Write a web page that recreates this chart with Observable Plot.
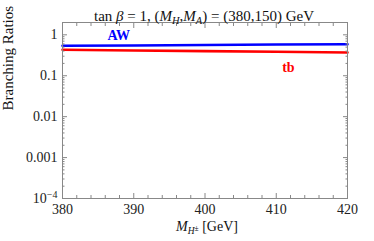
<!DOCTYPE html>
<html><head><meta charset="utf-8">
<script src="https://cdn.jsdelivr.net/npm/d3@7"></script>
<script src="https://cdn.jsdelivr.net/npm/@observablehq/plot@0.6"></script>
<style>body{margin:0;background:#fff}</style>
</head><body><div id="chart"></div>
<script>
const masses = [380, 390, 400, 410, 420];
const brAW = [0.54, 0.55, 0.565, 0.58, 0.59];
const brTB = [0.43, 0.415, 0.40, 0.385, 0.37];
const seriesNames = ["AW", "tb"];
const seriesColors = ["#0000ff", "#ff0000"];
const xMajor = [380, 390, 400, 410, 420];
const yMajor = [1, 0.1, 0.01, 0.001, 0.0001];
const yLabels = ["1", "0.1", "0.01", "0.001", "10-4"];

const rows = [];
masses.forEach((m, i) => {
  rows.push({m, v: brAW[i], s: "AW"});
  rows.push({m, v: brTB[i], s: "tb"});
});
const xMinor = d3.range(380, 421, 2).filter(v => !xMajor.includes(v));
const yMinor = [];
for (let e = -4; e <= 0; e++) for (let k = 2; k <= 9; k++) { const v = k * 10 ** e; if (v <= 2) yMinor.push(v); }
const labelPos = [{m: 387.9, v: 0.95, s: "AW"}, {m: 411.7, v: 0.157, s: "tb"}];
const frameCol = "#888";

const chart = Plot.plot({
  width: 374, height: 241,
  marginLeft: 62, marginRight: 27, marginTop: 22, marginBottom: 43,
  x: {domain: [380, 420]},
  y: {type: "log", domain: [0.0001, 2]},
  color: {domain: seriesNames, range: seriesColors},
  style: {fontSize: "14px", fontFamily: "'Liberation Serif', 'DejaVu Serif', serif", color: "#222", background: "#fff"},
  marks: [
    Plot.line(rows, {x: "m", y: "v", z: "s", stroke: "s", strokeWidth: 2.6}),
    Plot.frame({stroke: frameCol, strokeWidth: 1}),
    Plot.axisX({anchor: "bottom", ticks: xMajor, tickSize: -5, text: null, stroke: frameCol, label: null}),
    Plot.axisX({anchor: "top", ticks: xMajor, tickSize: -5, text: null, stroke: frameCol, label: null}),
    Plot.axisX({anchor: "bottom", ticks: xMinor, tickSize: -3, text: null, stroke: frameCol, label: null}),
    Plot.axisX({anchor: "top", ticks: xMinor, tickSize: -3, text: null, stroke: frameCol, label: null}),
    Plot.axisY({anchor: "left", ticks: yMajor, tickSize: -5, text: null, stroke: frameCol, label: null}),
    Plot.axisY({anchor: "right", ticks: yMajor, tickSize: -5, text: null, stroke: frameCol, label: null}),
    Plot.axisY({anchor: "left", ticks: yMinor, tickSize: -2.5, text: null, stroke: frameCol, label: null}),
    Plot.axisY({anchor: "right", ticks: yMinor, tickSize: -2.5, text: null, stroke: frameCol, label: null}),
    Plot.axisX({anchor: "bottom", ticks: xMajor, tickSize: 0, tickPadding: 6, tickFormat: d => String(d), label: null, fontSize: 14}),
    Plot.axisY({anchor: "left", ticks: yMajor, tickSize: 0, tickPadding: 5, tickFormat: d => yLabels[yMajor.indexOf(d)], label: null, fontSize: 14}),
    Plot.text(labelPos, {x: "m", y: "v", text: "s", fill: "s", fontWeight: "bold", fontSize: 14}),
    Plot.text(["TITLE"], {frameAnchor: "top", dx: -1, dy: -12.5, text: d => d, fontSize: 15, fill: "#111"}),
    Plot.text(["XLABEL"], {frameAnchor: "bottom", dx: 2, dy: 32, text: d => d, fontSize: 14, fill: "#111"}),
    Plot.text(["Branching Ratios"], {frameAnchor: "left", dx: -54, rotate: -90, text: d => d, fontSize: 15, fill: "#111"})
  ]
});
document.getElementById("chart").appendChild(chart);

const svg = d3.select(chart);
svg.selectAll("text").each(function() {
  const t = d3.select(this);
  const s = t.text();
  if (s === "TITLE") {
    t.text(null);
    t.append("tspan").text("tan ");
    t.append("tspan").attr("font-style", "italic").text("β");
    t.append("tspan").text(" = 1, (");
    t.append("tspan").attr("font-style", "italic").text("M");
    t.append("tspan").attr("font-size", "10.5px").attr("dy", "3").attr("font-style", "italic").text("H");
    t.append("tspan").attr("dy", "-3").text(",");
    t.append("tspan").attr("font-style", "italic").text("M");
    t.append("tspan").attr("font-size", "10.5px").attr("dy", "3").attr("font-style", "italic").text("A");
    t.append("tspan").attr("dy", "-3").text(") = (380,150) GeV");
  } else if (s === "XLABEL") {
    t.text(null);
    t.append("tspan").attr("font-style", "italic").text("M");
    t.append("tspan").attr("font-size", "9.5px").attr("dy", "3").attr("font-style", "italic").text("H");
    t.append("tspan").attr("font-size", "7.5px").attr("dy", "-3").text("±");
    t.append("tspan").attr("dy", "0").text(" [GeV]");
  } else if (s === "10-4") {
    t.text(null);
    t.append("tspan").text("10");
    t.append("tspan").attr("font-size", "10px").attr("dy", "-5").text("−4");
  }
});
</script></body></html>
